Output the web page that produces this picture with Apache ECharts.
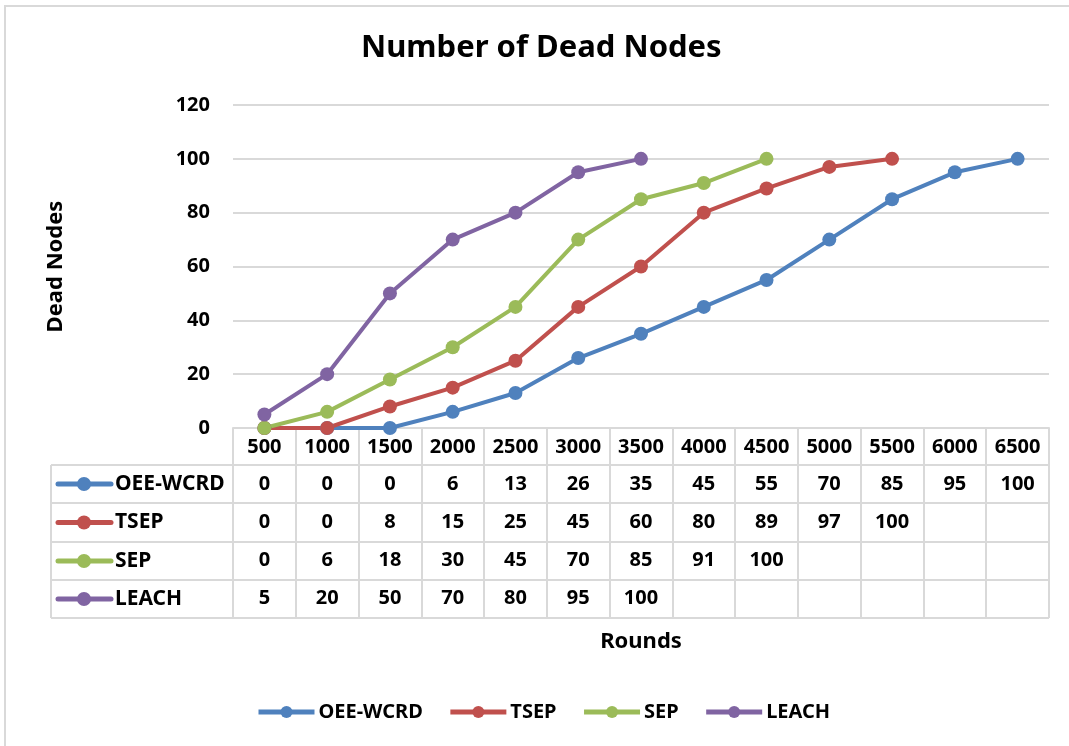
<!DOCTYPE html>
<html>
<head>
<meta charset="utf-8">
<script src="https://cdn.jsdelivr.net/npm/echarts@6/dist/echarts.min.js"></script>
<style>
  html, body { margin: 0; padding: 0; background: #fff; }
  #chart { width: 1069px; height: 746px; }
</style>
</head>
<body>
<div id="chart"></div>
<script>
// data
const rounds = ['500', '1000', '1500', '2000', '2500', '3000', '3500', '4000', '4500', '5000', '5500', '6000', '6500']
const seriesNames = ['OEE-WCRD', 'TSEP', 'SEP', 'LEACH']
const oeeWcrd = [0, 0, 0, 6, 13, 26, 35, 45, 55, 70, 85, 95, 100]
const tsep = [0, 0, 8, 15, 25, 45, 60, 80, 89, 97, 100, null, null]
const sep = [0, 6, 18, 30, 45, 70, 85, 91, 100, null, null, null, null]
const leach = [5, 20, 50, 70, 80, 95, 100, null, null, null, null, null, null]
const yTicks = { min: 0, max: 120, interval: 20 }

const colors = ['#4f81bd', '#c0504d', '#9bbb59', '#8064a2']
const allData = [oeeWcrd, tsep, sep, leach]
const font = '"Noto Sans", "Open Sans", sans-serif'
const gridLine = '#d9d9d9'
const fs = 20

// layout
const G = { left: 233, right: 20, top: 105, bottom: 318 }
const W = 1069, H = 746
const plotRight = W - G.right
const tableLeft = 51
const rowLines = [465, 503, 542, 580, 618]
const headerH = 37
const rowH = 38.25
const labelMargin = 9

const chart = echarts.init(document.getElementById('chart'))

// one extra x axis per table row, labels show the row's values
const rowAxes = allData.map((d, i) => ({
    type: 'category',
    data: rounds,
    gridIndex: 0,
    position: 'bottom',
    offset: headerH + rowH * i,
    axisLine: { show: false },
    axisTick: { show: false },
    splitLine: { show: false },
    axisLabel: {
        interval: 0,
        margin: labelMargin,
        fontFamily: font,
        fontWeight: 'bold',
        fontSize: fs,
        color: '#000',
        formatter: (v, idx) => d[idx] == null ? '' : String(d[idx])
    }
}))

// table lines + row legend keys
const graphics = []
graphics.push({
    type: 'rect', silent: true,
    shape: { x: 5, y: 6, width: W + 20, height: H + 20 },
    style: { fill: null, stroke: gridLine, lineWidth: 2 }
})
rowLines.forEach(y => {
    graphics.push({
        type: 'line', silent: true,
        shape: { x1: tableLeft, y1: y, x2: plotRight, y2: y },
        style: { stroke: gridLine, lineWidth: 2 }
    })
})
graphics.push({
    type: 'line', silent: true,
    shape: { x1: tableLeft, y1: rowLines[0], x2: tableLeft, y2: rowLines[rowLines.length - 1] },
    style: { stroke: gridLine, lineWidth: 2 }
})
seriesNames.forEach((name, i) => {
    const cy = (rowLines[i] + rowLines[i + 1]) / 2
    graphics.push({
        type: 'group', silent: true,
        children: [
            { type: 'line', shape: { x1: 58, y1: cy, x2: 111, y2: cy }, style: { stroke: colors[i], lineWidth: 5, lineCap: 'round' } },
            { type: 'circle', shape: { cx: 84, cy: cy, r: 7 }, style: { fill: colors[i] } },
            { type: 'text', x: 115, y: cy, style: { text: name, font: 'bold 21px ' + font, fill: '#000', verticalAlign: 'middle' } }
        ]
    })
})

const option = {
    animation: false,
    backgroundColor: '#fff',
    color: colors,
    title: {
        text: 'Number of Dead Nodes',
        left: 356,
        top: 28,
        textStyle: { fontFamily: font, fontWeight: 'bold', fontSize: 31, color: '#000' }
    },
    legend: {
        bottom: 19,
        left: 251,
        itemWidth: 56,
        itemHeight: 15,
        itemGap: 25,
        data: seriesNames,
        lineStyle: { width: 5 },
        textStyle: { fontFamily: font, fontWeight: 'bold', fontSize: 20, color: '#000', padding: [0, 0, 0, -1] }
    },
    grid: { left: G.left, right: G.right, top: G.top, bottom: G.bottom, containLabel: false },
    xAxis: [{
        type: 'category',
        data: rounds,
        boundaryGap: true,
        name: 'Rounds',
        nameLocation: 'middle',
        nameGap: 203,
        nameTextStyle: { fontFamily: font, fontWeight: 'bold', fontSize: 22, color: '#000' },
        axisLine: { show: true, lineStyle: { color: gridLine, width: 2 } },
        axisTick: { show: true, interval: 0, length: 190, lineStyle: { color: gridLine, width: 2 } },
        axisLabel: { interval: 0, margin: labelMargin, fontFamily: font, fontWeight: 'bold', fontSize: fs, color: '#000' }
    }].concat(rowAxes),
    yAxis: {
        type: 'value',
        min: yTicks.min,
        max: yTicks.max,
        interval: yTicks.interval,
        name: 'Dead Nodes',
        nameLocation: 'middle',
        nameGap: 166,
        nameTextStyle: { fontFamily: font, fontWeight: 'bold', fontSize: 22, color: '#000' },
        axisLine: { show: false },
        axisTick: { show: false },
        axisLabel: { margin: 23, fontFamily: font, fontWeight: 'bold', fontSize: fs, color: '#000' },
        splitLine: { lineStyle: { color: gridLine, width: 2 } }
    },
    graphic: graphics,
    series: seriesNames.map((name, i) => ({
        name: name,
        type: 'line',
        data: allData[i],
        symbol: 'circle',
        symbolSize: 14,
        lineStyle: { width: 4, color: colors[i] },
        itemStyle: { color: colors[i] }
    }))
}

chart.setOption(option)
</script>
</body>
</html>
